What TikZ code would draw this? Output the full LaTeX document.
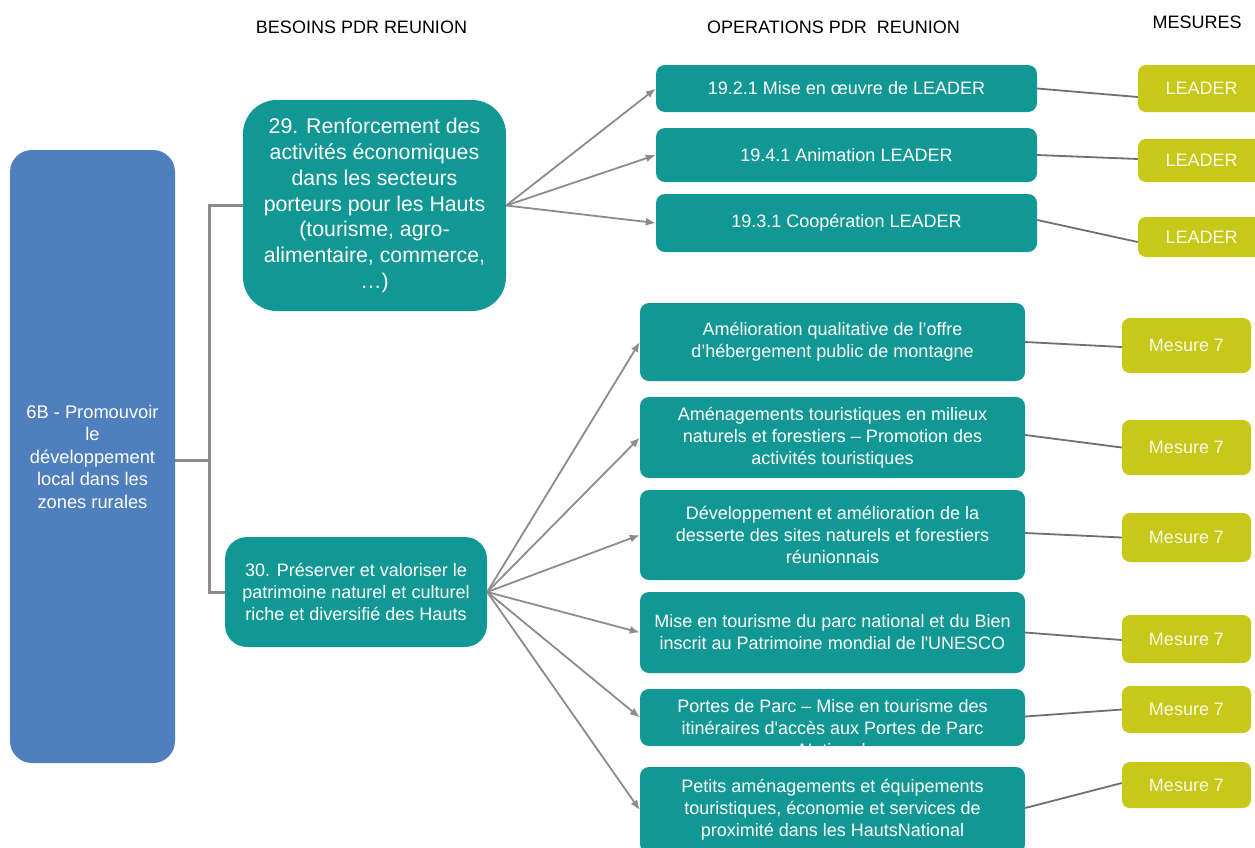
\documentclass[tikz,border=0pt]{standalone}
\usepackage{fontspec}
\setmainfont{Liberation Sans}
\usetikzlibrary{arrows.meta,calc}
\definecolor{tealbox}{RGB}{18,152,148}
\definecolor{bluebox}{RGB}{79,127,189}
\definecolor{limebox}{RGB}{200,200,24}
\definecolor{linkgray}{RGB}{140,140,140}
\definecolor{mgray}{RGB}{112,112,112}
\newcommand{\sq}{\textquotesingle}
\tikzset{
  base/.style={rectangle, inner sep=0pt, align=center, text=white},
  opbox/.style={base, fill=tealbox, rounded corners=9pt, font=\fontsize{18}{22}\selectfont},
  optext/.style={base, font=\fontsize{18}{22}\selectfont},
  mbox/.style={base, fill=limebox, rounded corners=8pt, text=white!90!limebox, font=\fontsize{18}{22}\selectfont},
  needbox/.style={base, fill=tealbox},
  prio/.style={base, fill=bluebox, rounded corners=22pt, font=\fontsize{18.3}{22.5}\selectfont},
  header/.style={inner sep=0pt, text=black, font=\fontsize{18}{20}\selectfont},
  tree/.style={draw=linkgray, line width=3pt},
  feed/.style={draw=linkgray, line width=1.8pt, -{Latex[length=10pt,width=8pt]}},
  link/.style={draw=mgray, line width=1.8pt}
}
\begin{document}
\begin{tikzpicture}[x=1pt,y=-1pt]
\useasboundingbox (0,0) rectangle (1255,847);
\clip (0,0) rectangle (1255,847);
\fill[white] (0,0) rectangle (1255,847);

% column headers
\node[header] (hbes) at (361.5,27) {BESOINS PDR REUNION};
\node[header] (hops) at (833.5,27) {OPERATIONS PDR\ \ REUNION};
\node[header] (hmes) at (1197,22) {MESURES};

% priority
\node[prio, minimum width=165pt, minimum height=613pt] (prio) at (92.5,456.5)
  {6B - Promouvoir\\le\\développement\\local dans les\\zones rurales};

% needs
\node[needbox, rounded corners=34pt, minimum width=263pt, minimum height=211pt,
      font=\fontsize{21.3}{25.7}\selectfont] (b29) at (374.5,205.5)
  {29. Renforcement des\\activités économiques\\dans les secteurs\\porteurs pour les Hauts\\(tourisme, agro-\\alimentaire, commerce,\\…)};
\node[needbox, rounded corners=22pt, minimum width=262pt, minimum height=110pt,
      font=\fontsize{18}{22}\selectfont] (b30) at (356,592)
  {30. Préserver et valoriser le\\patrimoine naturel et culturel\\riche et diversifié des Hauts};

% operations
\node[opbox, minimum width=381pt, minimum height=47pt] (op1) at (846.5,88.5) {19.2.1 Mise en œuvre de LEADER};
\node[opbox, minimum width=381pt, minimum height=54pt] (op2) at (846.5,155) {19.4.1 Animation LEADER};
\node[opbox, minimum width=381pt, minimum height=58pt] (op3) at (846.5,223) {19.3.1 Coopération LEADER};
\node[opbox, minimum width=385pt, minimum height=78pt] (op4) at (832.5,342)
  {Amélioration qualitative de l’offre\\d’hébergement public de montagne};
\node[opbox, minimum width=385pt, minimum height=81pt] (op5) at (832.5,437.5)
  {Aménagements touristiques en milieux\\naturels et forestiers – Promotion des\\activités touristiques};
\node[opbox, minimum width=385pt, minimum height=90pt] (op6) at (832.5,535)
  {Développement et amélioration de la\\desserte des sites naturels et forestiers\\réunionnais};
\node[opbox, minimum width=385pt, minimum height=81pt] (op7) at (832.5,632.5)
  {Mise en tourisme du parc national et du Bien\\inscrit au Patrimoine mondial de l\sq UNESCO};
\node[opbox, minimum width=385pt, minimum height=57pt] (op8) at (832.5,717.5) {};
\node[optext] (op8t) at ($(op8.center)+(0,11)$)
  {Portes de Parc – Mise en tourisme des\\itinéraires d\sq accès aux Portes de Parc\\National};
\node[opbox, minimum width=385pt, minimum height=86pt] (op9) at (832.5,810)
  {Petits aménagements et équipements\\touristiques, économie et services de\\proximité dans les HautsNational};

% measures
\node[mbox, minimum width=127pt, minimum height=47pt] (m1) at (1201.5,88.5) {LEADER};
\node[mbox, minimum width=127pt, minimum height=43pt] (m2) at (1201.5,160.5) {LEADER};
\node[mbox, minimum width=127pt, minimum height=40pt] (m3) at (1201.5,237) {LEADER};
\node[mbox, minimum width=129pt, minimum height=55pt] (m4) at (1186.5,345.5) {Mesure 7};
\node[mbox, minimum width=129pt, minimum height=55pt] (m5) at (1186.5,447.5) {Mesure 7};
\node[mbox, minimum width=129pt, minimum height=49pt] (m6) at (1186.5,537.5) {Mesure 7};
\node[mbox, minimum width=129pt, minimum height=48pt] (m7) at (1186.5,639) {Mesure 7};
\node[mbox, minimum width=129pt, minimum height=47pt] (m8) at (1186.5,709.5) {Mesure 7};
\node[mbox, minimum width=129pt, minimum height=46pt] (m9) at (1186.5,785) {Mesure 7};

% priority to needs
\coordinate (trunk) at (209,460);
\draw[tree] (prio.east |- trunk) -- (trunk);
\draw[tree] (b29.west) -| (trunk) |- (b30.west);

% needs to operations
\foreach \o in {op1,op2,op3} \draw[feed] (b29.east) -- (\o.west);
\foreach \o in {op4,op5,op6,op7,op8,op9} \draw[feed] (b30.east) -- (\o.west);

% operations to measures
\draw[link] (op1.east) -- ($(m1.west)+(0,8.5)$);
\draw[link] (op2.east) -- ($(m2.west)+(0,-1.5)$);
\draw[link] ($(op3.east)+(0,-3)$) -- ($(m3.west)+(0,5)$);
\draw[link] (op4.east) -- ($(m4.west)+(0,1.5)$);
\draw[link] ($(op5.east)+(0,-2.5)$) -- (m5.west);
\draw[link] ($(op6.east)+(0,-2)$) -- (m6.west);
\draw[link] (op7.east) -- ($(m7.west)+(0,1)$);
\draw[link] ($(op8.east)+(0,-1)$) -- (m8.west);
\draw[link] ($(op9.east)+(0,-2)$) -- ($(m9.west)+(0,-2)$);
\end{tikzpicture}
\end{document}
